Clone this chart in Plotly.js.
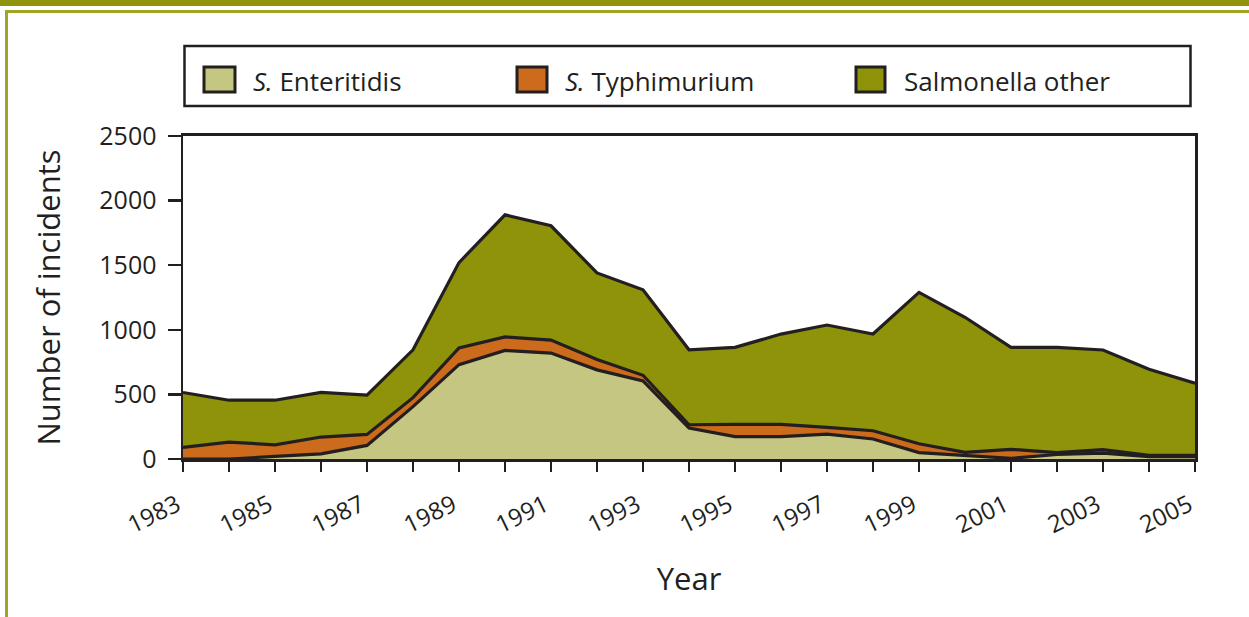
<!DOCTYPE html>
<html>
<head>
<meta charset="utf-8">
<script src="https://cdn.plot.ly/plotly-3.0.1.min.js"></script>
<style>
  html, body { margin: 0; padding: 0; background: #ffffff; }
  #wrap { position: relative; width: 1249px; height: 617px; overflow: hidden; background: #ffffff; }
  #band { position: absolute; left: 0; top: 0; width: 1249px; height: 6px; background: #8f940a; }
  #frame { position: absolute; left: 5px; top: 10px; width: 1260px; height: 620px;
           border-top: 3px solid #a0a524; border-left: 3px solid #a0a524; }
  #chart { position: absolute; left: 0; top: 0; width: 1249px; height: 617px; }
</style>
</head>
<body>
<div id="wrap">
  <div id="band"></div>
  <div id="frame"></div>
  <div id="chart"></div>
</div>
<script>
// ---- data ----
var years = [1983,1984,1985,1986,1987,1988,1989,1990,1991,1992,1993,1994,
             1995,1996,1997,1998,1999,2000,2001,2002,2003,2004,2005];
var enteritidis = [0,0,20,40,105,405,730,840,820,690,605,240,
                   173,173,193,155,50,25,5,35,45,18,18];
var typhimurium = [90,130,90,130,85,70,130,105,100,80,43,25,
                   95,95,52,64,68,27,70,15,27,10,10];
var salmonellaOther = [425,325,345,345,305,370,660,945,885,670,662,580,
                       596,699,792,748,1172,1045,789,814,772,666,558];
var seriesNames = ['<i>S.</i> Enteritidis', '<i>S.</i> Typhimurium', 'Salmonella other'];
var xTickVals = [1983,1985,1987,1989,1991,1993,1995,1997,1999,2001,2003,2005];
var xTickLabels = ['1983','1985','1987','1989','1991','1993','1995','1997','1999','2001','2003','2005'];
var yTickVals = [0,500,1000,1500,2000,2500];
var yTickLabels = ['0','500','1000','1500','2000','2500'];

// ---- styles ----
var fills = ['#c5c682', '#cd6b1c', '#8f930a'];
var ink = '#231f20';
var font = 'Open Sans, Noto Sans, sans-serif';

var L = 183, T = 136, W = 1012, H = 323;
function PX(px) { return (px - L) / W; }
function PY(py) { return (T + H - py) / H; }

var seriesValues = [enteritidis, typhimurium, salmonellaOther];
var traces = seriesValues.map(function (vals, i) {
  return {
    type: 'scatter', mode: 'lines', x: years, y: vals,
    name: seriesNames[i], stackgroup: 'one',
    line: { color: ink, width: 3.2 },
    fillcolor: fills[i], showlegend: false
  };
});

// legend drawn as shapes + text annotations
var shapes = [{
  type: 'rect', xref: 'paper', yref: 'paper',
  x0: PX(184.5), x1: PX(1190.5), y0: PY(106), y1: PY(46),
  line: { color: ink, width: 2.5 }, fillcolor: '#ffffff', layer: 'above'
}];
var swatchX = [[204, 235], [517, 547], [856, 885]];
var textX = [251, 563, 902];
var annotations = [];
for (var i = 0; i < 3; i++) {
  shapes.push({
    type: 'rect', xref: 'paper', yref: 'paper',
    x0: PX(swatchX[i][0]), x1: PX(swatchX[i][1]), y0: PY(92), y1: PY(67),
    line: { color: ink, width: 3 }, fillcolor: fills[i], layer: 'above'
  });
  annotations.push({
    xref: 'paper', yref: 'paper', x: PX(textX[i]), y: PY(81),
    xanchor: 'left', yanchor: 'middle', showarrow: false,
    text: seriesNames[i], font: { family: font, size: 26, color: ink }
  });
}

var layout = {
  width: 1249, height: 617,
  margin: { l: L, r: 1249 - L - W, t: T, b: 617 - T - H, pad: 0 },
  paper_bgcolor: 'rgba(0,0,0,0)', plot_bgcolor: '#ffffff',
  showlegend: false,
  font: { family: font, color: ink },
  xaxis: {
    range: [1983, 2005], tickmode: 'array', tickvals: xTickVals, ticktext: xTickLabels,
    ticks: 'outside', ticklen: 10, tickwidth: 2.5, tickcolor: ink,
    minor: { tickmode: 'linear', tick0: 1983, dtick: 1, ticks: 'outside', ticklen: 10, tickwidth: 2.5, tickcolor: ink },
    tickangle: -26, tickfont: { family: font, size: 24, color: ink },
    ticklabelstandoff: 10, ticklabelshift: -6,
    showline: true, linecolor: ink, linewidth: 3, mirror: true,
    showgrid: false, zeroline: false, automargin: false,
    title: { text: 'Year', font: { family: font, size: 31, color: ink }, standoff: 30 }
  },
  yaxis: {
    range: [0, 2500], tickmode: 'array', tickvals: yTickVals, ticktext: yTickLabels,
    ticks: 'outside', ticklen: 13, tickwidth: 2.5, tickcolor: ink,
    tickfont: { family: font, size: 25, color: ink },
    ticklabelstandoff: 6,
    showline: true, linecolor: ink, linewidth: 2.5, mirror: true,
    showgrid: false, zeroline: false, automargin: false,
    title: { text: 'Number of incidents', font: { family: font, size: 31, color: ink }, standoff: 30 }
  },
  shapes: shapes,
  annotations: annotations
};

Plotly.newPlot('chart', traces, layout, { staticPlot: true, displayModeBar: false });
</script>
</body>
</html>
